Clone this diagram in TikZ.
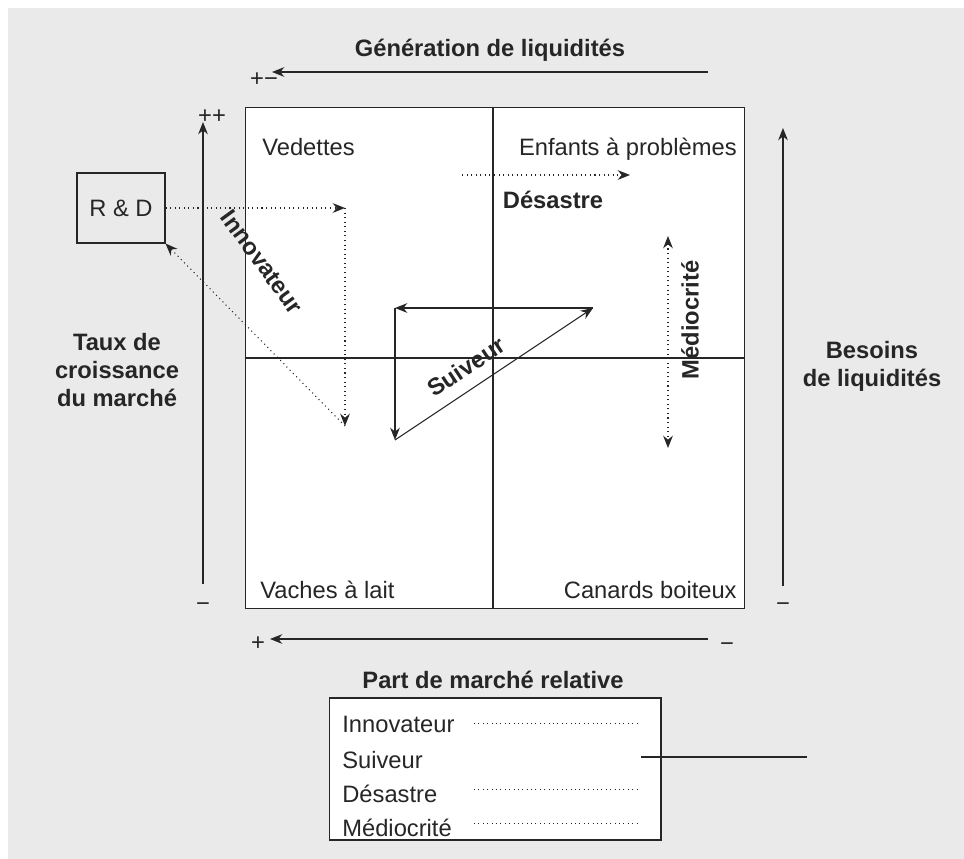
\documentclass[tikz,border=0pt]{standalone}
\usepackage{fontspec}
\setmainfont{Liberation Sans}
\usetikzlibrary{arrows.meta,positioning}
\definecolor{bcgInk}{HTML}{262626}
\definecolor{bcgPaper}{HTML}{EAEAEA}

\begin{document}
\begin{tikzpicture}[x=0.02cm,y=-0.02cm,
  lbl/.style={font=\fontsize{13.5}{16}\selectfont,text=bcgInk,inner sep=0pt},
  blbl/.style={lbl,font=\fontsize{13.5}{16}\selectfont\bfseries},
  tip/.style={-{Stealth[length=7pt,width=5.5pt]}},
  axis/.style={draw=bcgInk,line width=.6pt,tip},
  trail/.style={draw=bcgInk,line width=.6pt,dotted,tip}]
  \useasboundingbox (0,0) rectangle (964,859);
  \fill[bcgPaper] (8,8) rectangle (964,859);

  \node[draw=bcgInk,line width=.6pt,fill=white,minimum width=10cm,minimum height=10.04cm,inner sep=0] (mat) at (495,358) {};
  \draw[bcgInk,line width=.6pt] ([xshift=-.04cm]mat.north) -- ([xshift=-.04cm]mat.south);
  \draw[bcgInk,line width=.6pt] (mat.west) -- (mat.east);
  \node[lbl,anchor=base west] (vedettes) at (262,155) {Vedettes};
  \node[lbl,anchor=base east] (enfants) at (737,155) {Enfants à problèmes};
  \node[lbl,anchor=base west] (vaches) at (260,598) {Vaches à lait};
  \node[lbl,anchor=base east] (canards) at (737,598) {Canards boiteux};

  \node[blbl] (genLiq) at (490,50) {Génération de liquidités};
  \coordinate (genR) at (708,72);
  \coordinate (genL) at (272,72);
  \draw[axis] (genR) -- (genL);
  \node[lbl] (genSign) at (264,80) {+−};

  \node[blbl,align=center] (taux) at (117,370) {Taux de\\croissance\\du marché};
  \coordinate (tauxB) at (203,584);
  \coordinate (tauxT) at (203,122);
  \draw[axis] (tauxB) -- (tauxT);
  \node[lbl] (tauxPlus) at (212,117) {++};
  \node[lbl] (tauxMinus) at (203,607) {−};

  \node[blbl,align=center] (besoins) at (872,366) {Besoins\\de liquidités};
  \coordinate (besB) at (783,586);
  \coordinate (besT) at (783,128);
  \draw[axis] (besB) -- (besT);
  \node[lbl] (besMinus) at (783,607) {−};

  \coordinate (partR) at (708,639);
  \coordinate (partL) at (270,639);
  \draw[axis] (partR) -- (partL);
  \node[lbl] (partPlus) at (258,644) {+};
  \node[lbl] (partMinus) at (727,647) {−};
  \node[blbl] (part) at (493,680) {Part de marché relative};

  \node[draw=bcgInk,line width=.6pt,lbl,minimum width=1.76cm,minimum height=1.4cm] (rd) at (121,208) {R \& D};
  \coordinate (rdTurn) at (345,208);
  \coordinate (rdLow) at (345,426);
  \draw[trail] (rd.east) -- (rdTurn);
  \draw[trail] (rdTurn) -- (rdLow);
  \draw[trail] (rdLow) -- (rd.south east);
  \node[blbl,rotate=-54] (innov) at (262,262) {Innovateur};

  \coordinate (suA) at (593,308);
  \coordinate (suB) at (395,308);
  \coordinate (suC) at (395,440);
  \draw[axis] (suA) -- (suB);
  \draw[axis] (suB) -- (suC);
  \draw[axis] (suC) -- node[blbl,sloped,above=7pt,pos=.42] (suiv) {Suiveur} (suA);

  \coordinate (deA) at (462,175);
  \coordinate (deB) at (630,175);
  \draw[trail] (deA) -- (deB);
  \node[blbl] (desastre) at (553,200) {Désastre};

  \coordinate (meT) at (668,236);
  \coordinate (meB) at (668,448);
  \draw[trail,{Stealth[length=7pt,width=5.5pt]}-{Stealth[length=7pt,width=5.5pt]}] (meT) -- (meB);
  \node[blbl,rotate=90] (medio) at (690,320) {Médiocrité};

  \node[draw=bcgInk,line width=.6pt,fill=white,minimum width=6.64cm,minimum height=2.84cm,inner sep=0] (leg) at (495,769) {};
  \foreach \y/\t in {732/Innovateur,768/Suiveur,802/Désastre,836/Médiocrité}
    \node[lbl,anchor=base west] at (342,\y) {\t};
  \foreach \y in {723,789,823}
    \draw[bcgInk,line width=.5pt,dotted] (474,\y) -- (639,\y);
  \draw[bcgInk,line width=.6pt] (641,757) -- (807,757);
\end{tikzpicture}
\end{document}
